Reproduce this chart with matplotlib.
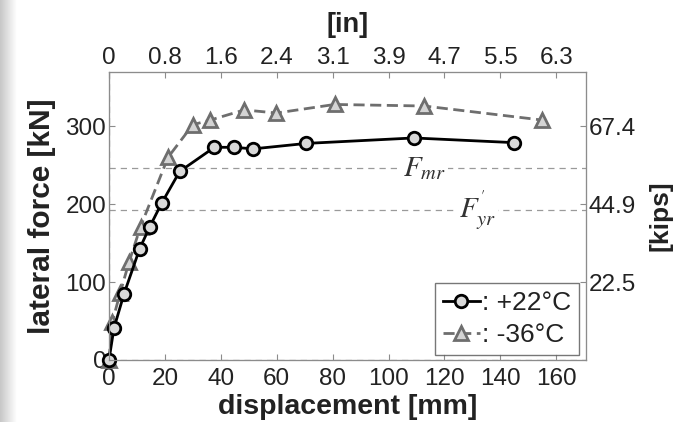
import matplotlib.pyplot as plt
import numpy as np

plt.rcParams['font.family'] = ['Liberation Sans', 'DejaVu Sans']
plt.rcParams['mathtext.fontset'] = 'stix'

# +22 C test (circles)
disp_warm = [0, 1.8, 5.4, 11, 14.6, 18.8, 25.3, 37.7, 44.7, 51.6, 70.6, 109, 144.8]
force_warm = [0, 41, 85, 143, 171, 201, 242, 273, 273, 271, 278, 285, 279]

# -36 C test (triangles)
disp_cold = [0, 1.2, 4, 7.2, 11.3, 21.1, 30, 36.3, 48.4, 59.9, 80.7, 112.8, 154.9]
force_cold = [0, 49, 86, 126, 171, 260, 302, 308, 321, 317, 328, 326, 308]

F_mr = 246
F_yr = 192

x_ticks = [0, 20, 40, 60, 80, 100, 120, 140, 160]
in_labels = ['0', '0.8', '1.6', '2.4', '3.1', '3.9', '4.7', '5.5', '6.3']
y_ticks = [0, 100, 200, 300]
kips_ticks = [100, 200, 300]
kips_labels = ['22.5', '44.9', '67.4']

txt = '#222222'
spine_c = '#8c8c8c'
tick_fs = 17.5
lab_fs = 20.5

fig = plt.figure(figsize=(6.81, 4.22), dpi=100)

# grey shadow at the left edge of the screenshot
shade = fig.add_axes([0, 0, 0.024, 1])
shade.imshow(np.linspace(0.78, 1.0, 64)[None, :], cmap='gray', vmin=0, vmax=1,
             aspect='auto', extent=[0, 1, 0, 1])
shade.axis('off')

ax = fig.add_axes([0.160, 0.147, 0.700, 0.683])

ax.axhline(F_mr, color='#9a9a9a', ls=(0, (5, 4)), lw=0.9, zorder=1)
ax.axhline(F_yr, color='#9a9a9a', ls=(0, (5, 4)), lw=0.9, zorder=1)
ax.axhline(0, color='#9a9a9a', ls=(0, (5, 4)), lw=0.9, zorder=1)
ax.axvline(0, color='#9a9a9a', ls=(0, (5, 4)), lw=0.9, zorder=1)

ax.plot(disp_cold, force_cold, color='#6e6e6e', ls=(0, (4, 2)), lw=2,
        marker='^', ms=9.5, mfc='#d4d4d4', mec='#6e6e6e', mew=2,
        label=': -36\u00b0C', zorder=3, clip_on=False)
ax.plot(disp_warm, force_warm, color='black', ls='-', lw=2,
        marker='o', ms=9, mfc='#d9d9d9', mec='black', mew=2,
        label=': +22\u00b0C', zorder=4, clip_on=False)

ax.text(113, F_mr, r'$F_{mr}$', fontsize=21, color='#333333', ha='center',
        va='center', bbox=dict(facecolor='white', edgecolor='none', pad=1), zorder=2)
ax.text(132, F_yr, r"$F_{yr}^{'}$", fontsize=21, color='#333333', ha='center',
        va='center', bbox=dict(facecolor='white', edgecolor='none', pad=1), zorder=2)

ax.set_xlim(0, 170.5)
ax.set_ylim(0, 370)
ax.set_xticks(x_ticks)
ax.set_yticks(y_ticks)
ax.tick_params(direction='in', length=4, color=spine_c, labelsize=tick_fs,
               labelcolor=txt, pad=2)
ax.tick_params(axis='x', pad=6)
for s in ax.spines.values():
    s.set_color(spine_c)

ax.set_xlabel('displacement [mm]', fontsize=lab_fs, fontweight='bold', color=txt, labelpad=3)
ax.set_ylabel('lateral force [kN]', fontsize=21.5, fontweight='bold', color=txt, labelpad=7)

top = ax.twiny()
top.set_xlim(ax.get_xlim())
top.set_xticks(x_ticks)
top.set_xticklabels(in_labels)
top.tick_params(direction='in', length=4, color=spine_c, labelsize=tick_fs,
                labelcolor=txt, pad=2)
top.set_xlabel('[in]', fontsize=19.5, fontweight='bold', color=txt, labelpad=11)

right = ax.twinx()
right.set_ylim(ax.get_ylim())
right.set_yticks(kips_ticks)
right.set_yticklabels(kips_labels)
right.tick_params(direction='in', length=4, color=spine_c, labelsize=tick_fs,
                  labelcolor=txt, pad=2)
right.set_ylabel('[kips]', fontsize=19, fontweight='bold', color=txt, labelpad=9)
for a in (top, right):
    for s in a.spines.values():
        s.set_color(spine_c)

h, l = ax.get_legend_handles_labels()
leg = ax.legend(h[::-1], l[::-1], loc='lower right', fontsize=19,
                frameon=True, fancybox=False, handlelength=1.4, handletextpad=0.1,
                borderpad=0.3, labelspacing=0.3, borderaxespad=0,
                bbox_to_anchor=(0.987, 0.017))
leg.get_frame().set_edgecolor('#555555')
leg.get_frame().set_linewidth(1)
for t in leg.get_texts():
    t.set_color(txt)

fig.savefig('out.png', dpi=100)
